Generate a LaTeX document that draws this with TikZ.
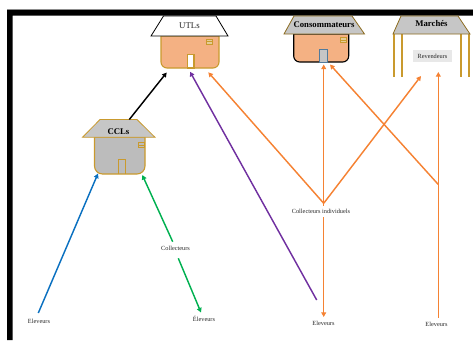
\documentclass[tikz,border=0pt]{standalone}
\usepackage{fontspec}
\setmainfont{Liberation Serif}
\usetikzlibrary{arrows.meta}
\definecolor{gold}{HTML}{C99A2E}
\definecolor{wall}{HTML}{F4B183}
\definecolor{roofgray}{HTML}{C6C6C6}
\definecolor{orangeline}{HTML}{F58233}
\definecolor{bluel}{HTML}{0A70C0}
\definecolor{greenl}{HTML}{00B050}
\definecolor{purplel}{HTML}{7030A0}
\tikzset{
  lbl/.style={font=\fontsize{6.3}{7}\selectfont,text=black!85,inner sep=0pt},
  roof/.style={line width=.8pt,line join=miter},
  wallp/.style={line width=1.1pt},
  conn/.style={line width=1.45pt,-{Triangle[length=4.6pt,width=4.8pt]}},
  plainconn/.style={line width=1.45pt},
  pillar/.style={draw=gold,line width=1.4pt},
  roofname/.style={inner sep=0pt,font=\bfseries\fontsize{8.7}{9}\selectfont},
}
\begin{document}
\begin{tikzpicture}[x=1pt,y=-1pt]
\useasboundingbox (0,0) rectangle (473,340);
% frame
\fill[black] (7,10) -- (473,10) -- (473,15.7) -- (12.7,15.7) -- (12.7,340) -- (7,340) -- cycle;
\draw[black!45,line width=.5pt] (7,9.7) -- (473,9.7);
% UTLs
\draw[gold,wallp,fill=wall] (161,36) [rounded corners=6pt] -- (161,68) -- (219,68) [sharp corners] -- (219,36) -- cycle;
\draw[gold,fill=white,line width=1.1pt] (187.5,54.5) rectangle (194,68);
\draw[gold,fill=gold!50,line width=.9pt] (206.5,39) rectangle (212,44);
\draw[gold,line width=.7pt] (206.5,41.5) -- (212,41.5);
\draw[black,fill=white,roof] (163.5,16) -- (216,16) -- (228,36) -- (151,36) -- cycle;
\node[roofname,font=\fontsize{8.8}{9}\selectfont,text=black!85] (utl) at (189.5,25.8) {UTLs};
% Consommateurs
\draw[black,wallp,fill=wall] (293.7,34) [rounded corners=6pt] -- (293.7,62) -- (348.7,62) [sharp corners] -- (348.7,34) -- cycle;
\draw[bluel!60!black!70,fill=roofgray,line width=1pt] (319.5,49.5) rectangle (327,62.5);
\draw[gold,fill=gold!50,line width=.9pt] (340.5,37.5) rectangle (346.5,42.5);
\draw[gold,line width=.7pt] (340.5,40) -- (346.5,40);
\draw[gold!70!black,fill=roofgray,roof] (294,16) -- (352,16) -- (364.5,34) -- (284,34) -- cycle;
\node[roofname] (cons) at (324,25) {Consommateurs};
% Marchés
\draw[pillar] (394,34) -- (394,76.5) (402,34) -- (402,76.5) (461,34) -- (461,76.5) (469,34) -- (469,76.5);
\draw[gold!70!black,fill=roofgray,roof] (401,16) -- (458,16) -- (470,34) -- (393,34) -- cycle;
\node[roofname] (mar) at (431.5,23.3) {Marchés};
\node[fill=black!9,minimum width=39.5pt,minimum height=12pt,inner sep=0pt,font=\fontsize{6.3}{7}\selectfont,text=black!85] (rev) at (432.5,56) {Revendeurs};
% CCLs
\draw[gold,wallp,fill=roofgray!95!black] (94.5,137) [rounded corners=8pt] -- (94.5,174) -- (145,174) [sharp corners] -- (145,137) -- cycle;
\draw[gold,line width=1.4pt] (118.2,174) -- (118.2,159.5) -- (125.2,159.5) -- (125.2,174);
\draw[gold,line width=.9pt] (138.5,142.5) rectangle (144,147.5);
\draw[gold,line width=.7pt] (138.5,145) -- (144,145);
\draw[gold,fill=roofgray,roof] (100,119.5) -- (137,119.5) -- (155,137.3) -- (82.5,137.3) -- cycle;
\node[roofname] (ccl) at (118.5,131.5) {CCLs};
% labels
\node[lbl] (e1) at (39,321.3) {Eleveurs};
\node[lbl] (e2) at (204,319) {Éleveurs};
\node[lbl] (coll) at (175.5,248) {Collecteurs};
\node[lbl] (ci) at (321,211) {Collecteurs individuels};
\node[lbl] (e3) at (323.5,323) {Eleveurs};
\node[lbl] (e4) at (436.5,324) {Eleveurs};
% connector ends
\coordinate (cclTop) at (129.3,119.5);
\coordinate (utlA) at (166.7,72.5);
\coordinate (utlB) at (190,71.7);
\coordinate (utlC) at (208.3,72.3);
\coordinate (purS) at (316.7,300);
\coordinate (apex) at (323.7,203.3);
\coordinate (consA) at (323.7,64.5);
\coordinate (consB) at (330,64.5);
\coordinate (marA) at (421,76);
\coordinate (marB) at (438.3,72);
\coordinate (knee) at (438.3,184.5);
\coordinate (e4top) at (438.3,317.5);
\coordinate (ciB) at (323.7,217);
\coordinate (e3top) at (323.7,317);
\coordinate (apexLow) at (323.7,206);
\coordinate (cclL) at (98,173.5);
\coordinate (cclR) at (142.3,175);
\coordinate (e1top) at (38.3,313);
\coordinate (collT) at (172.7,241.7);
\coordinate (collB) at (178.3,258.3);
\coordinate (e2top) at (201,312.5);
% connectors
\draw[conn,black] (cclTop) -- (utlA);
\draw[conn,purplel] (purS) -- (utlB);
\draw[conn,orangeline] (apex) -- (utlC);
\draw[conn,orangeline] (apex) -- (consA);
\draw[conn,orangeline] (apex) -- (marA);
\draw[plainconn,orangeline] (apex) -- (apexLow);
\draw[conn,orangeline] (ciB) -- (e3top);
\draw[conn,orangeline] (e4top) -- (marB);
\draw[conn,orangeline] (knee) -- (consB);
\draw[conn,bluel] (e1top) -- (cclL);
\draw[conn,greenl] (collT) -- (cclR);
\draw[conn,greenl] (collB) -- (e2top);
\end{tikzpicture}
\end{document}
